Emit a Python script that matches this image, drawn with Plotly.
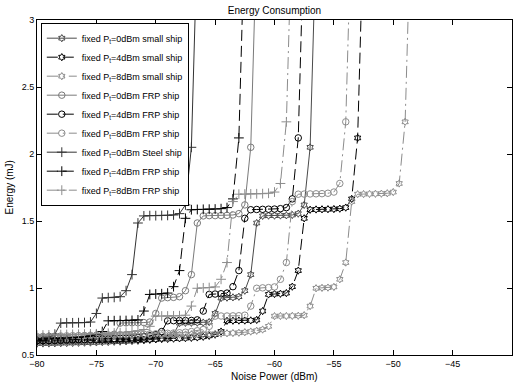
import plotly.graph_objects as go

# Noise power sampling grid (dBm)
noise_power = [round(-80 + 0.5 * i, 1) for i in range(64)]

# Energy (mJ) per series, starting at -80 dBm
small_0dBm = [0.585, 0.586, 0.586, 0.587, 0.588, 0.589, 0.590, 0.591, 0.592, 0.593,
              0.594, 0.596, 0.597, 0.599, 0.600, 0.602, 0.604, 0.606, 0.609, 0.613,
              0.618, 0.624, 0.633, 0.655, 0.738, 0.740, 0.740, 0.741, 0.742, 0.746,
              0.810, 0.925, 0.928, 0.930, 0.935, 0.980, 1.100, 1.485, 1.538, 1.540,
              1.540, 1.541, 1.542, 1.545, 1.555, 1.620, 2.050, 3.600]
small_4dBm = [0.598, 0.599, 0.600, 0.600, 0.601, 0.602, 0.603, 0.604, 0.605, 0.606,
              0.607, 0.608, 0.609, 0.610, 0.611, 0.612, 0.613, 0.614, 0.615, 0.616,
              0.617, 0.619, 0.620, 0.622, 0.624, 0.626, 0.628, 0.631, 0.636, 0.643,
              0.652, 0.675, 0.755, 0.756, 0.757, 0.757, 0.758, 0.762, 0.828, 0.952,
              0.955, 0.957, 0.962, 1.010, 1.130, 1.520, 1.584, 1.586, 1.587, 1.588,
              1.589, 1.592, 1.600, 1.665, 2.120, 3.700]
small_8dBm = [0.628, 0.629, 0.630, 0.631, 0.632, 0.633, 0.634, 0.635, 0.636, 0.637,
              0.638, 0.639, 0.640, 0.641, 0.642, 0.643, 0.644, 0.645, 0.646, 0.647,
              0.648, 0.649, 0.650, 0.651, 0.652, 0.653, 0.654, 0.655, 0.656, 0.657,
              0.658, 0.660, 0.662, 0.664, 0.666, 0.670, 0.675, 0.681, 0.690, 0.714,
              0.790, 0.791, 0.791, 0.792, 0.793, 0.797, 0.865, 0.998, 1.001, 1.003,
              1.008, 1.065, 1.190, 1.645, 1.700, 1.701, 1.702, 1.703, 1.704, 1.707,
              1.716, 1.780, 2.240, 3.800]
frp_0dBm = [0.594, 0.596, 0.597, 0.599, 0.600, 0.602, 0.604, 0.606, 0.609, 0.613,
            0.618, 0.624, 0.633, 0.655, 0.738, 0.740, 0.740, 0.741, 0.742, 0.746,
            0.810, 0.925, 0.928, 0.930, 0.935, 0.980, 1.100, 1.485, 1.538, 1.540,
            1.540, 1.541, 1.542, 1.545, 1.555, 1.620, 2.050, 3.600]
frp_4dBm = [0.607, 0.608, 0.609, 0.610, 0.611, 0.612, 0.613, 0.614, 0.615, 0.616,
            0.617, 0.619, 0.620, 0.622, 0.624, 0.626, 0.628, 0.631, 0.636, 0.643,
            0.652, 0.675, 0.755, 0.756, 0.757, 0.757, 0.758, 0.762, 0.828, 0.952,
            0.955, 0.957, 0.962, 1.010, 1.130, 1.520, 1.584, 1.586, 1.587, 1.588,
            1.589, 1.592, 1.600, 1.665, 2.120, 3.700]
frp_8dBm = [0.638, 0.639, 0.640, 0.641, 0.642, 0.643, 0.644, 0.645, 0.646, 0.647,
            0.648, 0.649, 0.650, 0.651, 0.652, 0.653, 0.654, 0.655, 0.656, 0.657,
            0.658, 0.660, 0.662, 0.664, 0.666, 0.670, 0.675, 0.681, 0.690, 0.714,
            0.790, 0.791, 0.791, 0.792, 0.793, 0.797, 0.865, 0.998, 1.001, 1.003,
            1.008, 1.065, 1.190, 1.645, 1.700, 1.701, 1.702, 1.703, 1.704, 1.707,
            1.716, 1.780, 2.240, 3.800]
steel_0dBm = [0.618, 0.624, 0.633, 0.655, 0.738, 0.740, 0.740, 0.741, 0.742, 0.746,
              0.810, 0.925, 0.928, 0.930, 0.935, 0.980, 1.100, 1.485, 1.538, 1.540,
              1.540, 1.541, 1.542, 1.545, 1.555, 1.620, 2.050, 3.600]
steel_4dBm = [0.617, 0.619, 0.620, 0.622, 0.624, 0.626, 0.628, 0.631, 0.636, 0.643,
              0.652, 0.675, 0.755, 0.756, 0.757, 0.757, 0.758, 0.762, 0.828, 0.952,
              0.955, 0.957, 0.962, 1.010, 1.130, 1.520, 1.584, 1.586, 1.587, 1.588,
              1.589, 1.592, 1.600, 1.665, 2.120, 3.700]
steel_8dBm = [0.648, 0.649, 0.650, 0.651, 0.652, 0.653, 0.654, 0.655, 0.656, 0.657,
              0.658, 0.660, 0.662, 0.664, 0.666, 0.670, 0.675, 0.681, 0.690, 0.714,
              0.790, 0.791, 0.791, 0.792, 0.793, 0.797, 0.865, 0.998, 1.001, 1.003,
              1.008, 1.065, 1.190, 1.645, 1.700, 1.701, 1.702, 1.703, 1.704, 1.707,
              1.716, 1.780, 2.240, 3.800]

labels = [
    "fixed P<sub>t</sub>=0dBm small ship",
    "fixed P<sub>t</sub>=4dBm small ship",
    "fixed P<sub>t</sub>=8dBm small ship",
    "fixed P<sub>t</sub>=0dBm FRP ship",
    "fixed P<sub>t</sub>=4dBm FRP ship",
    "fixed P<sub>t</sub>=8dBm FRP ship",
    "fixed P<sub>t</sub>=0dBm Steel ship",
    "fixed P<sub>t</sub>=4dBm FRP ship",
    "fixed P<sub>t</sub>=8dBm FRP ship",
]
x_ticks = [-80, -75, -70, -65, -60, -55, -50, -45, -40]
y_ticks = [0.5, 1, 1.5, 2, 2.5, 3]
y_ticklabels = ["0.5", "1", "1.5", "2", "2.5", "3"]

series = [small_0dBm, small_4dBm, small_8dBm, frp_0dBm, frp_4dBm, frp_8dBm,
          steel_0dBm, steel_4dBm, steel_8dBm]

DASH = "11px,5px"
DASHDOT = "12px,4px,2px,4px"
styles = [
    dict(color="#4a4a4a", dash="solid", symbol="hexagram-open", size=5.5),
    dict(color="#000000", dash=DASH, symbol="hexagram-open", size=5.5),
    dict(color="#8c8c8c", dash=DASHDOT, symbol="hexagram-open", size=5.5),
    dict(color="#7a7a7a", dash="solid", symbol="circle-open", size=6.5),
    dict(color="#000000", dash=DASH, symbol="circle-open", size=6.5),
    dict(color="#8c8c8c", dash=DASHDOT, symbol="circle-open", size=6.5),
    dict(color="#333333", dash="solid", symbol="cross-thin-open", size=7),
    dict(color="#000000", dash=DASH, symbol="cross-thin-open", size=7),
    dict(color="#8c8c8c", dash=DASHDOT, symbol="cross-thin-open", size=7),
]

fig = go.Figure()
for vals, name, st in zip(series, labels, styles):
    fig.add_trace(go.Scatter(
        x=noise_power[:len(vals)], y=vals, name=name, mode="lines+markers",
        line=dict(color=st["color"], width=1, dash=st["dash"]),
        marker=dict(symbol=st["symbol"], size=st["size"], color=st["color"],
                    line=dict(color=st["color"], width=1)),
    ))

FONT = "Liberation Sans, Arial, Helvetica, sans-serif"
axis_common = dict(showline=True, linecolor="black", linewidth=1, mirror="ticks",
                   ticks="inside", ticklen=5, tickcolor="black", showgrid=False,
                   zeroline=False, tickfont=dict(family=FONT, size=9, color="black"))

fig.update_layout(
    width=517, height=385,
    margin=dict(l=37, r=5, t=20, b=30),
    plot_bgcolor="white", paper_bgcolor="white",
    font=dict(family=FONT, size=9, color="black"),
    title=dict(text="Energy Consumption", x=0.5, xref="paper", y=1 - 10 / 385,
               yanchor="middle", xanchor="center",
               font=dict(family=FONT, size=10, color="black")),
    xaxis=dict(range=[-80, -40], tickvals=x_ticks, **axis_common),
    yaxis=dict(range=[0.5, 3], tickvals=y_ticks, ticktext=y_ticklabels, **axis_common),
    legend=dict(x=0.008, y=0.992, xanchor="left", yanchor="top",
                bgcolor="white", bordercolor="black", borderwidth=1,
                font=dict(family=FONT, size=9, color="black"),
                tracegroupgap=0),
    showlegend=True,
    annotations=[
        dict(text="Noise Power (dBm)", x=0.5, y=-(376 - 355) / 335, xref="paper",
             yref="paper", showarrow=False, xanchor="center", yanchor="middle",
             font=dict(family=FONT, size=10, color="black")),
        dict(text="Energy (mJ)", x=-(37 - 9) / 475, y=0.5, xref="paper", yref="paper",
             showarrow=False, textangle=-90, xanchor="center", yanchor="middle",
             font=dict(family=FONT, size=10, color="black")),
    ],
)

fig.write_html("out.html",
               config={"displayModeBar": False},
               post_script="document.body.style.margin='0';"
                           "document.body.style.overflow='hidden';")
